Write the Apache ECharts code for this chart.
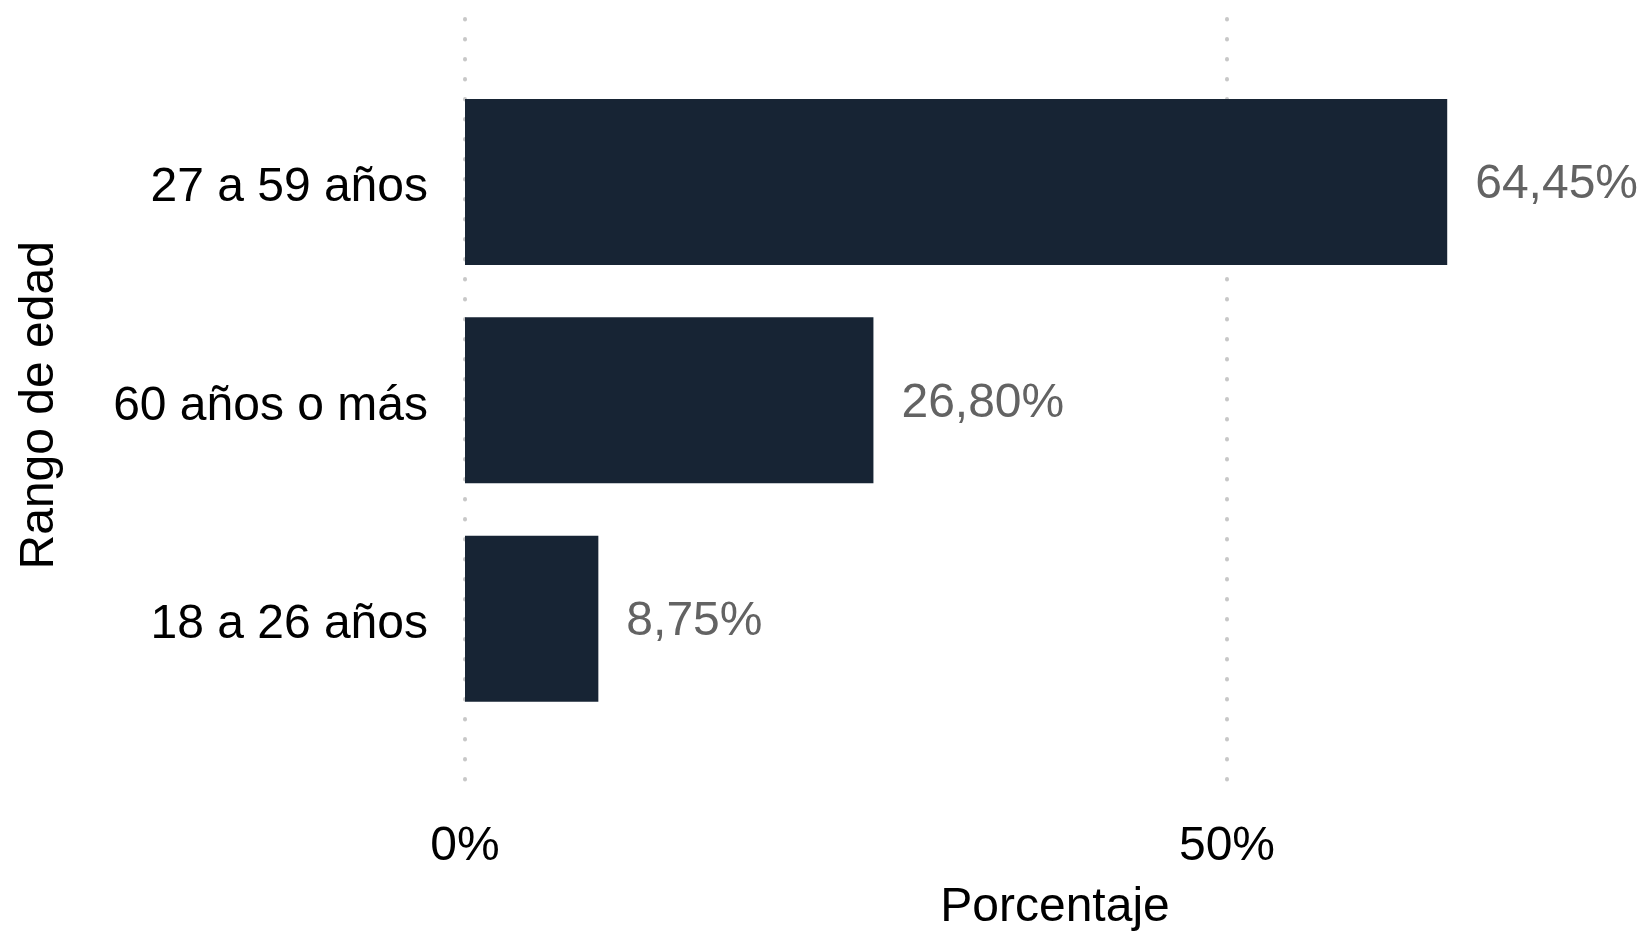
<!DOCTYPE html>
<html>
<head>
<meta charset="utf-8">
<script src="https://cdn.jsdelivr.net/npm/echarts@6/dist/echarts.min.js"></script>
<style>
  html, body { margin: 0; padding: 0; background: #ffffff; }
  #chart { width: 1644px; height: 931px; }
</style>
</head>
<body>
<div id="chart"></div>
<script>
// Age groups (bottom to top) and their share of respondents, in percent
const categories = ['18 a 26 años', '60 años o más', '27 a 59 años'];
const percentages = [8.75, 26.80, 64.45];
const xTicks = [0, 50];

const FONT = '"Liberation Sans", Arial, sans-serif';
const FS = 48;

const pctLabel = v => v.toFixed(2).replace('.', ',') + '%';

const chart = echarts.init(document.getElementById('chart'), null, { renderer: 'canvas' });

chart.setOption({
  animation: false,
  backgroundColor: '#ffffff',
  grid: [
    // full-height panel carrying the dotted vertical grid lines and tick labels
    { left: 465, top: 19, width: 1524, height: 780, outerBoundsMode: 'none', containLabel: false },
    // band area for the bars
    { left: 465, top: 72.7, width: 1180, height: 655.2, outerBoundsMode: 'none', containLabel: false }
  ],
  xAxis: [
    {
      gridIndex: 0, type: 'value', min: 0, max: 100, interval: 50,
      axisLine: { show: false }, axisTick: { show: false },
      axisLabel: {
        margin: 24, color: '#000000', fontSize: FS, fontFamily: FONT,
        formatter: v => (xTicks.indexOf(v) >= 0 ? v + '%' : '')
      },
      splitLine: {
        show: true,
        lineStyle: { color: '#c8c8c8', width: 4, type: [0.5, 19.5], cap: 'round' }
      }
    },
    {
      gridIndex: 1, type: 'value', min: 0, max: 1180 / 15.24,
      axisLine: { show: false }, axisTick: { show: false },
      axisLabel: { show: false }, splitLine: { show: false },
      name: 'Porcentaje', nameLocation: 'middle', nameGap: 156,
      nameTextStyle: { color: '#000000', fontSize: FS, fontFamily: FONT }
    }
  ],
  yAxis: [
    {
      gridIndex: 0, type: 'value', min: 0, max: 1, show: false
    },
    {
      gridIndex: 1, type: 'category', data: categories,
      axisLine: { show: false }, axisTick: { show: false },
      axisLabel: {
        margin: 37,
        formatter: v => '{t|' + v + '}',
        rich: {
          t: {
            color: '#000000', fontSize: FS, fontFamily: FONT,
            lineHeight: 60, verticalAlign: 'bottom'
          }
        }
      },
      splitLine: { show: false },
      name: 'Rango de edad', nameLocation: 'middle', nameGap: 401, nameRotate: 90,
      nameTextStyle: { color: '#000000', fontSize: FS, fontFamily: FONT, padding: [0, 10, 0, 0] }
    }
  ],
  series: [
    {
      type: 'bar', xAxisIndex: 1, yAxisIndex: 1,
      data: percentages, barWidth: 166,
      itemStyle: { color: '#172434' },
      label: {
        show: true, position: 'right', distance: 28, offset: [0, 3],
        color: '#636363', fontSize: FS, fontFamily: FONT,
        formatter: p => pctLabel(p.value)
      }
    }
  ]
});
</script>
</body>
</html>
